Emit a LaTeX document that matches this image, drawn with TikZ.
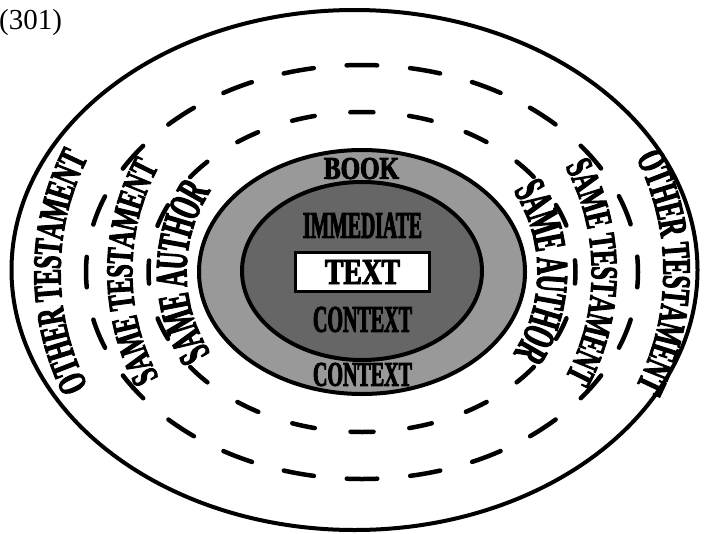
\documentclass[tikz,border=0pt]{standalone}
\usepackage{fontspec}
\setmainfont{Liberation Serif}
\usetikzlibrary{decorations.text}
\newfontfamily\cfA[FakeStretch=0.6, FakeBold=2.5]{Liberation Serif}
\newfontfamily\cfB[FakeStretch=0.63, FakeBold=2.5]{Liberation Serif}
\newfontfamily\cfC[FakeStretch=0.53, FakeBold=2.5]{Liberation Serif}
\newfontfamily\cfD[FakeStretch=0.6, FakeBold=2.5]{Liberation Serif}
\tikzset{
  ring/.style={line width=4pt},
  dashring/.style={line width=4.5pt, line cap=round},
  lbl/.style={inner sep=0pt, outer sep=0pt},
}
\begin{document}
\begin{tikzpicture}[x=1pt,y=-1pt]
\useasboundingbox (0,0) rectangle (704,533);
\coordinate (c) at (362,272);
% outer solid ellipse
\draw[ring] (354.5,270) ellipse [x radius=343, y radius=260];
% dashed rings
\draw[dashring, dash pattern=on 30.5pt off 33.05pt, dash phase=15.25pt] (c) ellipse [x radius=276, y radius=207];
\draw[dashring, dash pattern=on 23pt off 35.97pt, dash phase=11.5pt] (c) ellipse [x radius=213.5, y radius=160];
% book context ring
\draw[ring, fill=black!40] (c) ellipse [x radius=163, y radius=122];
% immediate context
\draw[ring, fill=black!60] (362,271) ellipse [x radius=120, y radius=89];
% text box
\node[draw, line width=3.3pt, fill=white, minimum width=133.7pt, minimum height=38.7pt, inner sep=0pt] (box) at (362.5,272) {\resizebox{75pt}{24pt}{\cfD\bfseries TEXT}};
% labels
\node[lbl] (book) at (361.5,168.5) {\resizebox{75pt}{21pt}{\cfD\bfseries BOOK}};
\node[lbl] (imm) at (362.5,225.5) {\resizebox{119pt}{25pt}{\cfD\bfseries IMMEDIATE}};
\node[lbl] (ctx1) at (362.5,319.5) {\resizebox{99pt}{25pt}{\cfD\bfseries CONTEXT}};
\node[lbl] (ctx2) at (362.5,374.5) {\resizebox{99pt}{23pt}{\cfD\bfseries CONTEXT}};
% number
\node[anchor=base west, inner sep=0pt, font=\fontsize{29pt}{31pt}\selectfont] (num) at (-1,29) {(301)};
% curved labels, left side (read upward)
\path[decorate, decoration={text along path, text align=center, raise=-6.5pt,
  text={|\cfA\bfseries\fontsize{40pt}{42pt}\selectfont|OTHER TESTAMENT}}]
  (c) ++(140:308 and 280) arc[start angle=140, end angle=220, x radius=308, y radius=280];
\path[decorate, decoration={text along path, text align=center, raise=-6.25pt,
  text={|\cfB\bfseries\fontsize{38pt}{40pt}\selectfont|SAME TESTAMENT}}]
  (c) ++(130:236 and 232) arc[start angle=130, end angle=230, x radius=236, y radius=232];
\path[decorate, decoration={text along path, text align=center, raise=-7.5pt,
  text={|\cfC\bfseries\fontsize{45pt}{47pt}\selectfont|SAME AUTHOR}}]
  (c) ++(120:183 and 168) arc[start angle=120, end angle=240, x radius=183, y radius=168];
% curved labels, right side (read downward)
\path[decorate, decoration={text along path, text align=center, raise=-6.5pt,
  text={|\cfA\bfseries\fontsize{40pt}{42pt}\selectfont|OTHER TESTAMENT}}]
  (c) ++(-40:308 and 280) arc[start angle=-40, end angle=40, x radius=308, y radius=280];
\path[decorate, decoration={text along path, text align=center, raise=-6.25pt,
  text={|\cfB\bfseries\fontsize{38pt}{40pt}\selectfont|SAME TESTAMENT}}]
  (c) ++(-50:236 and 232) arc[start angle=-50, end angle=50, x radius=236, y radius=232];
\path[decorate, decoration={text along path, text align=center, raise=-7.5pt,
  text={|\cfC\bfseries\fontsize{45pt}{47pt}\selectfont|SAME AUTHOR}}]
  (c) ++(-60:183 and 168) arc[start angle=-60, end angle=60, x radius=183, y radius=168];
\end{tikzpicture}
\end{document}
